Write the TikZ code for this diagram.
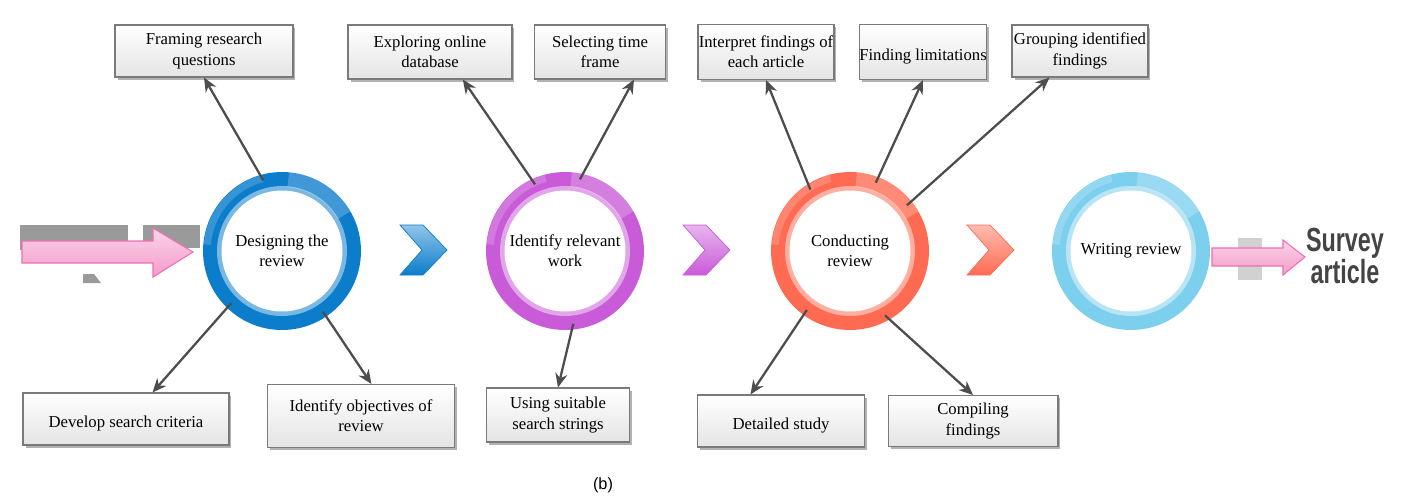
\documentclass[tikz,border=0pt]{standalone}
\usepackage{fontspec}
\setmainfont{Liberation Serif}
\newfontfamily\surveyfont[FakeStretch=0.7]{Liberation Sans}
\newfontfamily\capfont{Liberation Sans}
\usepackage{xcolor}
\definecolor{cDesign}{HTML}{0B7DCB}
\definecolor{cIdentify}{HTML}{C95BD8}
\definecolor{cConduct}{HTML}{FF6B52}
\definecolor{cWriting}{HTML}{7DCFEE}
\definecolor{cLine}{HTML}{4D4D4D}
\definecolor{cBorder}{HTML}{7A7A7A}
\definecolor{cBoxBot}{HTML}{E4E4E4}
\definecolor{cShadow}{HTML}{9A9A9A}
\definecolor{cSurvey}{HTML}{444444}
\definecolor{cPink}{HTML}{F59BCB}
\definecolor{cPinkLt}{HTML}{FBD3E8}
\definecolor{cPinkDark}{HTML}{EC6FB4}
\usepackage{tikz}
\usetikzlibrary{arrows.meta,shadows}
\newcommand{\boxfont}{\fontsize{9.5}{11.5}\selectfont}
\tikzset{
  node-box/.style={draw=cBorder,line width=.6pt,top color=white,bottom color=cBoxBot,
    drop shadow={shadow xshift=.05cm,shadow yshift=-.05cm,opacity=.3,fill=black},
    align=center,font=\boxfont,inner xsep=0pt,inner ysep=0pt,
    execute at begin node={\rule{0pt}{1.25em}}},
  % ring: coloured band, light inner edge, white disc, glossy strokes
  node-ring/.style={circle,minimum size=3.16cm,inner sep=0pt,outer sep=0pt,fill=#1,
    align=center,font=\boxfont,
    path picture={
      \fill[#1!55!white] (path picture bounding box.center) circle[radius=1.3cm];
      \fill[white] (path picture bounding box.center) circle[radius=1.21cm];
      \draw[white,opacity=.18,line width=.14cm] (path picture bounding box.center)
        ++(105:1.5cm) arc[start angle=105,end angle=175,radius=1.5cm];
      \draw[white,opacity=.22,line width=.3cm] (path picture bounding box.center)
        ++(30:1.43cm) arc[start angle=30,end angle=85,radius=1.43cm];
    }},
  chevron/.style={draw=#1,line width=.4pt,top color=#1!45!white,bottom color=#1},
  pink-arrow/.style={draw=cPinkDark,line width=.6pt,top color=cPinkLt,bottom color=cPink},
  survey/.style={font=\surveyfont\bfseries\fontsize{19}{18.7}\selectfont,text=cSurvey,
    align=center,inner sep=0pt},
  arrow/.style={-{Stealth[length=2.8mm,width=2.4mm]},line width=1.3pt,draw=cLine,
    shorten <=-.12cm},
}
\begin{document}
\begin{tikzpicture}[x=0.02cm,y=-0.02cm]
  \useasboundingbox (0,0) rectangle (1410,498);
  % lead-in arrow with its shadow
  \fill[cShadow] (20,225) rectangle (128,250);
  \fill[cShadow] (143,225) rectangle (200,248);
  \fill[cShadow] (83,274) -- (94,274) -- (101,283) -- (83,283) -- cycle;
  \draw[pink-arrow] (22,241) -- (153,241) -- (153,228) -- (193,252) -- (153,277)
    -- (153,263) -- (22,263) -- cycle;
  % stages
  \node[node-ring=cDesign] (design) at (282,251) {Designing the\\review};
  \node[node-ring=cIdentify] (identify) at (565,251) {Identify relevant\\work};
  \node[node-ring=cConduct] (conduct) at (850,251) {Conducting\\review};
  \node[node-ring=cWriting] (writing) at (1131,251) {Writing review};
  \foreach \x/\c in {400/cDesign,683/cIdentify,967/cConduct}
    \draw[chevron=\c,shift={(\x,0)}] (0,225) -- (23,225) -- (47,250) -- (23,275)
      -- (0,275) -- (22,250) -- cycle;
  % output arrow
  \fill[cShadow,opacity=.45] (1238,238) rectangle (1262,280);
  \draw[pink-arrow] (1212,248) -- (1283,248) -- (1283,240) -- (1305,257) -- (1283,275)
    -- (1283,266) -- (1212,266) -- cycle;
  \node[survey] (survey) at (1345,256) {Survey\\article};
  % tasks
  \node[node-box,minimum width=3.56cm,minimum height=1.04cm] (frame) at (204,51) {Framing research\\questions};
  \node[node-box,minimum width=3.28cm,minimum height=1.08cm] (explore) at (430,52) {Exploring online\\database};
  \node[node-box,minimum width=2.62cm,minimum height=1.08cm] (select) at (600,52) {Selecting time\\frame};
  \node[node-box,minimum width=2.72cm,minimum height=1.1cm] (interpret) at (766,52) {Interpret findings of\\each article};
  \node[node-box,minimum width=2.48cm,minimum height=1.1cm] (limit) at (923,52) {Finding limitations};
  \node[node-box,minimum width=2.72cm,minimum height=1.04cm] (group) at (1080,51) {Grouping identified\\findings};
  \node[node-box,minimum width=4.12cm,minimum height=1.04cm] (criteria) at (126,419) {Develop search criteria};
  \node[node-box,minimum width=3.74cm,minimum height=1.26cm] (objective) at (361,416) {Identify objectives of\\review};
  \node[node-box,minimum width=2.86cm,minimum height=1.08cm] (strings) at (558,415) {Using suitable\\search strings};
  \node[node-box,minimum width=3.34cm,minimum height=1.04cm] (detail) at (781,421) {Detailed study};
  \node[node-box,minimum width=3.4cm,minimum height=1.02cm] (compile) at (973,421) {Compiling\\findings};
  \draw[arrow] (design.106) -- (frame.south);
  \draw[arrow] (design.226) -- (criteria.45);
  \draw[arrow] (design.304) -- (objective.72);
  \draw[arrow] (identify.115) -- (explore.-40);
  \draw[arrow] (identify.77) -- (select.-39);
  \draw[arrow] (identify.275) -- (strings.north);
  \draw[arrow] (conduct.122) -- (interpret.south);
  \draw[arrow] (conduct.69) -- (limit.south);
  \draw[arrow] (conduct.39) -- (group.-139);
  \draw[arrow] (conduct.234) -- (detail.139);
  \draw[arrow] (conduct.300) -- (compile.north);
  \node[font=\capfont\fontsize{9.3}{11}\selectfont] (caption) at (603,485) {(b)};
\end{tikzpicture}
\end{document}
